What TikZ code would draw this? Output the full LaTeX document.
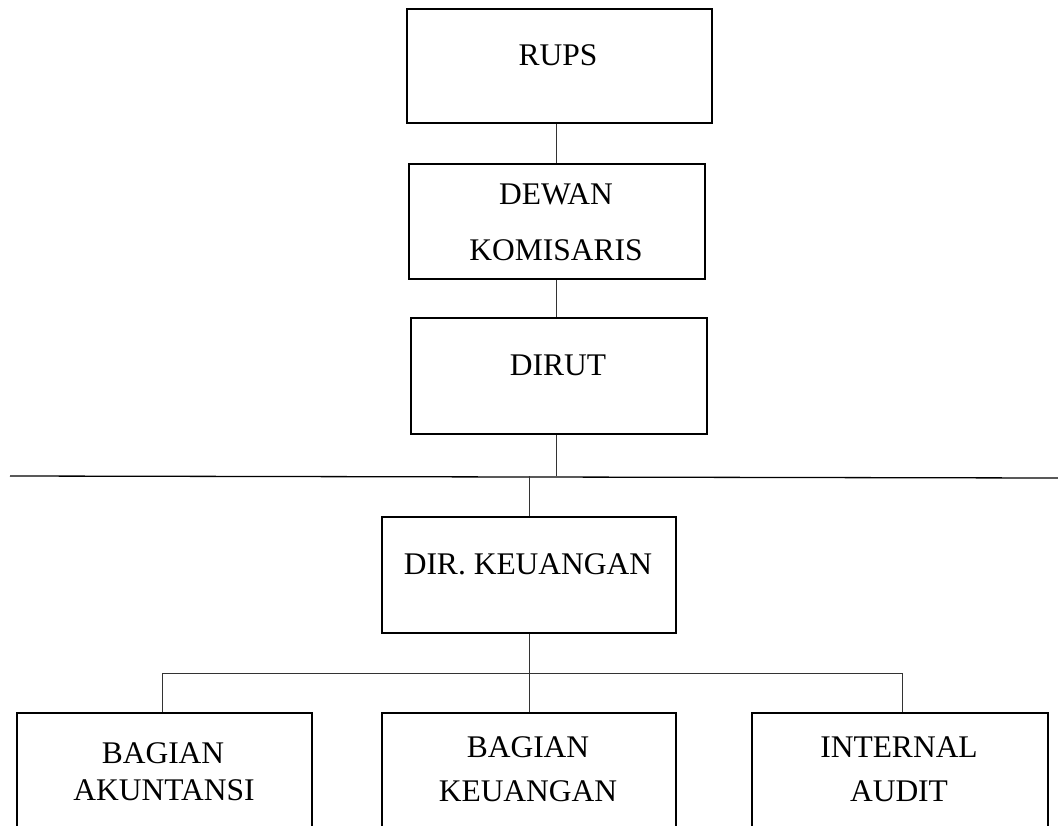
\documentclass[tikz,border=0pt]{standalone}
\usepackage{fontspec}
\setmainfont{Liberation Serif}
\begin{document}
\begin{tikzpicture}[x=1pt,y=-1pt,
  box/.style={draw, line width=2pt, inner sep=0pt, anchor=center},
  conn/.style={line width=1pt, draw=black!80},
  lbl/.style={inner sep=0pt, anchor=center, font=\fontsize{31.5}{36}\selectfont}]
\useasboundingbox (0,0) rectangle (1058,825);
\clip (0,0) rectangle (1058,825);
% boxes
\node[box, minimum width=305pt, minimum height=114pt] (rups) at (559.5,66) {};
\node[box, minimum width=296pt, minimum height=115pt] (dewan) at (557,221.5) {};
\node[box, minimum width=296pt, minimum height=116pt] (dirut) at (559,376) {};
\node[box, minimum width=294pt, minimum height=116pt] (dirk) at (529,575) {};
\node[box, minimum width=295pt, minimum height=124pt] (akun) at (164.5,775) {};
\node[box, minimum width=294pt, minimum height=124pt] (keu) at (529,775) {};
\node[box, minimum width=296pt, minimum height=124pt] (audit) at (900,775) {};
% labels
\node[lbl] (t1) at (558,55) {RUPS};
\node[lbl] (t2) at (556,194) {DEWAN};
\node[lbl] (t3) at (556,250) {KOMISARIS};
\node[lbl] (t4) at (558,365) {DIRUT};
\node[lbl] (t5) at (528,564) {DIR. KEUANGAN};
\node[lbl] (t6) at (163,753) {BAGIAN};
\node[lbl] (t7) at (164,790) {AKUNTANSI};
\node[lbl] (t8) at (528,747) {BAGIAN};
\node[lbl] (t9) at (528,791) {KEUANGAN};
\node[lbl] (t10) at (899,747) {INTERNAL};
\node[lbl] (t11) at (899,791) {AUDIT};
% helper coordinates
\coordinate (trunk) at (556,0);
\coordinate (hl) at (10,476);
\coordinate (hr) at (1058,478);
\coordinate (bl) at (162,673);
\coordinate (br) at (902,673);
% connectors
\draw[conn] (rups.south -| trunk) -- (dewan.north -| trunk);
\draw[conn] (dewan.south -| trunk) -- (dirut.north -| trunk);
\draw[conn] (dirut.south -| trunk) -- (trunk |- hl);
\draw[line width=1.3pt] (hl) -- (hr);
\draw[conn] (dirk.north |- hl) -- (dirk.north);
\draw[conn] (dirk.south) -- (keu.north);
\draw[conn] (bl) -- (br);
\draw[conn] (bl) -- (akun.north -| bl);
\draw[conn] (br) -- (audit.north -| br);
\end{tikzpicture}
\end{document}
